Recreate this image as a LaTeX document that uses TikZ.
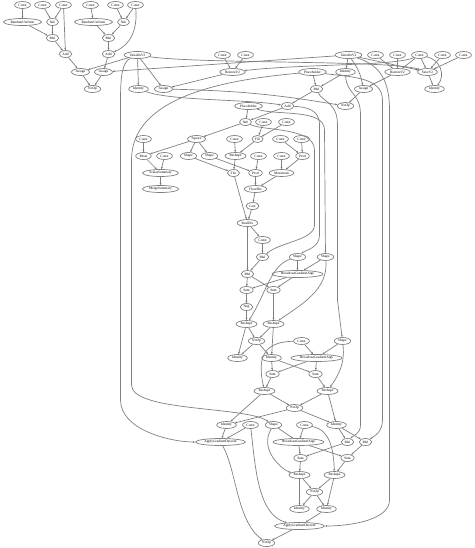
\documentclass[tikz,border=0pt]{standalone}
\usepackage{fontspec}
\setmainfont{Liberation Serif}
\usetikzlibrary{arrows.meta, shapes.geometric}

\begin{document}
\begin{tikzpicture}[x=1pt, y=-1pt,
    op/.style={ellipse, draw=black!50, line width=0.7pt, inner xsep=1.5pt, inner ysep=0.3pt,
      minimum height=7pt, font=\fontsize{3.5}{4}\selectfont},
    flow/.style={draw=black!50, line width=0.7pt, -{Stealth[length=2.4pt, width=1.9pt]}}
]
  \useasboundingbox (0,0) rectangle (474,548);
  \begin{scope}[xshift=0.5pt]

  % Initial values of the two variables
  \node[op] (c1) at (22,5) {Const};
  \node[op] (c2) at (42,5) {Const};
  \node[op] (c3) at (63,5) {Const};
  \node[op] (c4) at (90,5) {Const};
  \node[op] (c5) at (115,5) {Const};
  \node[op] (c6) at (135,5) {Const};
  \node[op] (ru1) at (22,22) {RandomUniform};
  \node[op] (sub1) at (52,22) {Sub};
  \node[op] (ru2) at (93,22) {RandomUniform};
  \node[op] (sub2) at (123,22) {Sub};
  \node[op] (mul1) at (52,38) {Mul};
  \node[op] (mul2) at (108,38) {Mul};
  \node[op] (add1) at (65,54) {Add};
  \node[op] (add2) at (108,54) {Add};
  \node[op] (asg1) at (80,72) {Assign};
  \node[op] (asg2) at (103,72) {Assign};
  \node[op] (init) at (92,89) {NoOp};

  % Variables, saver and restore
  \node[op] (var1) at (137,55) {VariableV2};
  \node[op] (cr1) at (222,55) {Const};
  \node[op] (cr2) at (245,55) {Const};
  \node[op] (var2) at (348,55) {VariableV2};
  \node[op] (cs1) at (375,55) {Const};
  \node[op] (cs2) at (397,55) {Const};
  \node[op] (cs3) at (419,55) {Const};
  \node[op] (cs4) at (442,55) {Const};
  \node[op] (cs5) at (463,55) {Const};
  \node[op] (rst1) at (232,72) {RestoreV2};
  \node[op] (phx) at (312,72) {Placeholder};
  \node[op] (idw) at (345,72) {Identity};
  \node[op] (rst2) at (397,72) {RestoreV2};
  \node[op] (save) at (427,72) {SaveV2};
  \node[op] (idb) at (138,89) {Identity};
  \node[op] (asg3) at (163,89) {Assign};
  \node[op] (mulx) at (316,89) {Mul};
  \node[op] (asg4) at (363,89) {Assign};
  \node[op] (idsave) at (434,89) {Identity};
  \node[op] (phy) at (248,106) {Placeholder};
  \node[op] (addm) at (287,106) {Add};
  \node[op] (restore) at (345,106) {NoOp};

  % Loss and summaries
  \node[op] (sub3) at (245,122) {Sub};
  \node[op] (c7) at (263,122) {Const};
  \node[op] (c8) at (286,122) {Const};
  \node[op] (c9) at (143,139) {Const};
  \node[op] (sq) at (196,139) {Square};
  \node[op] (c10) at (234,139) {Const};
  \node[op] (fill) at (257,139) {Fill};
  \node[op] (c11) at (280,139) {Const};
  \node[op] (c12) at (301,139) {Const};
  \node[op] (mean) at (143,156) {Mean};
  \node[op] (c13) at (164,156) {Const};
  \node[op] (shp1) at (188,156) {Shape};
  \node[op] (shp2) at (209,156) {Shape};
  \node[op] (rshp0) at (235,156) {Reshape};
  \node[op] (c14) at (258,156) {Const};
  \node[op] (c15) at (281,156) {Const};
  \node[op] (prod1) at (302,156) {Prod};
  \node[op] (ssum) at (160,173) {ScalarSummary};
  \node[op] (tile) at (233,173) {Tile};
  \node[op] (prod2) at (255,173) {Prod};
  \node[op] (maxm) at (281,173) {Maximum};
  \node[op] (msum) at (160,189) {MergeSummary};
  \node[op] (fdiv) at (255,189) {FloorDiv};
  \node[op] (cast) at (252,206) {Cast};
  \node[op] (rdiv) at (247,223) {RealDiv};

  % Gradients of Square and Sub
  \node[op] (c16) at (262,240) {Const};
  \node[op] (mulg1) at (262,257) {Mul};
  \node[op] (shp3) at (297,257) {Shape};
  \node[op] (shp4) at (325,257) {Shape};
  \node[op] (mulg2) at (247,274) {Mul};
  \node[op] (bga1) at (297,274) {BroadcastGradientArgs};
  \node[op] (sum1) at (246,290) {Sum};
  \node[op] (sum2) at (273,290) {Sum};
  \node[op] (neg) at (246,307) {Neg};
  \node[op] (rs1) at (246,324) {Reshape};
  \node[op] (rs2) at (273,324) {Reshape};
  \node[op] (nop1) at (256,341) {NoOp};
  \node[op] (id1) at (237,358) {Identity};
  \node[op] (id2) at (271,358) {Identity};

  % Gradient of Add
  \node[op] (c17) at (301,341) {Const};
  \node[op] (shp5) at (342,341) {Shape};
  \node[op] (bga2) at (316,358) {BroadcastGradientArgs};
  \node[op] (sum3) at (272,374) {Sum};
  \node[op] (sum4) at (315,374) {Sum};
  \node[op] (rs3) at (264,391) {Reshape};
  \node[op] (rs4) at (327,391) {Reshape};
  \node[op] (nop2) at (294,408) {NoOp};
  \node[op] (id3) at (226,425) {Identity};
  \node[op] (c18) at (250,425) {Const};
  \node[op] (id4) at (336,425) {Identity};

  % Gradient of Mul and updates
  \node[op] (shp6) at (273,425) {Shape};
  \node[op] (c19) at (304,425) {Const};
  \node[op] (agd1) at (220,442) {ApplyGradientDescent};
  \node[op] (bga3) at (298,442) {BroadcastGradientArgs};
  \node[op] (mulg3) at (347,442) {Mul};
  \node[op] (mulg4) at (365,442) {Mul};
  \node[op] (sum5) at (300,458) {Sum};
  \node[op] (sum6) at (347,458) {Sum};
  \node[op] (rs5) at (299,475) {Reshape};
  \node[op] (rs6) at (334,475) {Reshape};
  \node[op] (nop3) at (314,492) {NoOp};
  \node[op] (id5) at (299,509) {Identity};
  \node[op] (id6) at (326,509) {Identity};
  \node[op] (agd2) at (299,526) {ApplyGradientDescent};
  \node[op] (nop4) at (266,543) {NoOp};

  % Edges: initializers
  \draw[flow] (c1) edge (ru1);
  \draw[flow] (c2) edge (sub1);
  \draw[flow] (c3) edge (sub1) edge (add1);
  \draw[flow] (ru1) edge (mul1);
  \draw[flow] (sub1) edge (mul1);
  \draw[flow] (mul1) edge (add1);
  \draw[flow] (c4) edge (ru2);
  \draw[flow] (c5) edge (sub2);
  \draw[flow] (c6) edge (sub2);
  \draw[flow] (c6) .. controls (137,30) and (130,45) .. (add2);
  \draw[flow] (ru2) edge (mul2);
  \draw[flow] (sub2) edge (mul2);
  \draw[flow] (mul2) edge (add2);
  \draw[flow] (add1) edge (asg1);
  \draw[flow] (add2) edge (asg2);
  \draw[flow] (asg1) edge (init);
  \draw[flow] (asg2) edge (init);
  \draw[flow] (var1) edge (asg1) edge (idb) edge (asg3);
  \draw[flow] (var2) edge (asg2);

  % Edges: saver and restore
  \draw[flow] (cr1) edge (rst1);
  \draw[flow] (cr2) edge (rst1);
  \draw[flow] (rst1) edge (asg3);
  \draw[flow] (cs1) edge (rst2);
  \draw[flow] (cs2) edge (rst2);
  \draw[flow] (cs3) edge (rst2) edge (save);
  \draw[flow] (cs4) edge (save);
  \draw[flow] (cs5) edge (save);
  \draw[flow] (save) edge (idsave);
  \draw[flow] (rst2) edge (asg4);
  \draw[flow] (var2) edge (idw) edge (save) edge[bend left=12] (asg4);
  \draw[flow] (asg4) edge (restore);
  \draw[flow] (asg3) edge[bend left=4] (restore);
  \draw[flow] (cs3) .. controls (440,60) and (445,75) .. (idsave);
  \draw[flow] (cs3) .. controls (395,66) and (300,64) .. (rst1);
  \draw[flow] (var1) .. controls (200,64) and (390,60) .. (save);

  % Edges: model and loss
  \draw[flow] (phx) edge (mulx);
  \draw[flow] (idw) edge (mulx);
  \draw[flow] (mulx) edge (addm);
  \draw[flow] (idb) .. controls (172,101) and (245,99) .. (addm);
  \draw[flow] (phy) edge (sub3);
  \draw[flow] (addm) edge (sub3);
  \draw[flow] (sub3) edge (sq);
  \draw[flow] (c7) edge (fill);
  \draw[flow] (c8) edge (fill);
  \draw[flow] (c9) edge (mean);
  \draw[flow] (sq) edge (mean) edge (shp1) edge (shp2);
  \draw[flow] (c10) edge (rshp0);
  \draw[flow] (fill) edge (rshp0);
  \draw[flow] (c11) edge (prod1);
  \draw[flow] (c12) edge (prod1);
  \draw[flow] (mean) edge (ssum);
  \draw[flow] (c13) edge (ssum);
  \draw[flow] (ssum) edge (msum);
  \draw[flow] (shp1) edge (tile);
  \draw[flow] (rshp0) edge (tile);
  \draw[flow] (shp2) edge (prod2);
  \draw[flow] (c14) edge (prod2);
  \draw[flow] (c15) edge (maxm);
  \draw[flow] (prod1) edge (maxm);
  \draw[flow] (prod2) edge (fdiv);
  \draw[flow] (maxm) edge (fdiv);
  \draw[flow] (fdiv) edge (cast);
  \draw[flow] (tile) edge (rdiv);
  \draw[flow] (cast) edge (rdiv);

  % Edges: gradients of Square and Sub
  \draw[flow] (rdiv) edge (c16) edge (mulg2);
  \draw[flow] (c16) edge (mulg1);
  \draw[flow] (mulg1) edge (mulg2);
  \draw[flow] (sub3) .. controls (262,131) and (314,127) .. (314,150) -- (314,225)
    .. controls (314,240) and (280,242) .. (mulg1);
  \draw[flow] (addm) .. controls (307,107) and (319,110) .. (319,125) -- (319,235)
    .. controls (319,248) and (305,250) .. (shp3);
  \draw[flow] (phy) .. controls (275,116) and (324,108) .. (324,130) -- (shp4);
  \draw[flow] (shp3) edge (bga1);
  \draw[flow] (shp4) edge (bga1);
  \draw[flow] (mulg2) edge (sum1) edge (sum2);
  \draw[flow] (bga1) edge (sum1) edge (sum2);
  \draw[flow] (sum1) edge (neg);
  \draw[flow] (neg) edge (rs1);
  \draw[flow] (sum2) edge (rs2);
  \draw[flow] (shp3) .. controls (270,265) and (265,295) .. (rs1);
  \draw[flow] (shp4) .. controls (328,290) and (300,305) .. (rs2);
  \draw[flow] (rs1) edge (nop1) edge (id1);
  \draw[flow] (rs2) edge (nop1) edge (id2);
  \draw[flow] (nop1) edge (id1) edge (id2);

  % Edges: gradient of Add
  \draw[flow] (c17) edge (bga2);
  \draw[flow] (shp5) edge (bga2);
  \draw[flow] (mulx) .. controls (322,102) and (337,102) .. (337,125) -- (337,300) -- (shp5);
  \draw[flow] (id2) edge (sum3) edge (sum4);
  \draw[flow] (bga2) edge (sum3) edge (sum4);
  \draw[flow] (sum3) edge (rs3);
  \draw[flow] (sum4) edge (rs4);
  \draw[flow] (c17) .. controls (265,342) and (256,355) .. (rs3);
  \draw[flow] (shp5) .. controls (345,365) and (336,378) .. (rs4);
  \draw[flow] (rs3) edge (nop2) edge (id3);
  \draw[flow] (rs4) edge (nop2) edge (id4);
  \draw[flow] (nop2) edge (id3) edge (id4);

  % Edges: gradient of Mul
  \draw[flow] (phx) .. controls (220,80) and (131,98) .. (131,160) -- (131,385)
    .. controls (131,412) and (245,406) .. (shp6);
  \draw[flow] (shp6) edge (bga3);
  \draw[flow] (c19) edge (bga3);
  \draw[flow] (idw) .. controls (346,95) and (360,92) .. (360,115) -- (360,425)
    .. controls (360,434) and (352,436) .. (mulg3);
  \draw[flow] (phx) .. controls (350,77) and (382,77) .. (382,100) -- (382,420)
    .. controls (382,432) and (374,436) .. (mulg4);
  \draw[flow] (id4) edge (mulg3) edge (mulg4);
  \draw[flow] (mulg3) edge (sum5);
  \draw[flow] (mulg4) edge (sum6);
  \draw[flow] (bga3) edge (sum5) edge (sum6);
  \draw[flow] (sum5) edge (rs5);
  \draw[flow] (sum6) edge (rs6);
  \draw[flow] (shp6) .. controls (258,450) and (282,470) .. (rs5);
  \draw[flow] (c19) .. controls (330,430) and (333,450) .. (rs6);
  \draw[flow] (rs5) edge (nop3) edge (id5);
  \draw[flow] (rs6) edge (nop3) edge (id6);
  \draw[flow] (nop3) edge (id5) edge (id6);

  % Edges: gradient descent updates
  \draw[flow] (id3) edge (agd1);
  \draw[flow] (c18) edge (agd1);
  \draw[flow] (var1) .. controls (122,62) and (120,75) .. (120,100) -- (120,400)
    .. controls (120,430) and (170,442) .. (agd1);
  \draw[flow] (id6) edge (agd2);
  \draw[flow] (c18) .. controls (255,470) and (258,515) .. (agd2);
  \draw[flow] (var2) .. controls (375,64) and (389,75) .. (389,110) -- (389,500)
    .. controls (389,520) and (350,526) .. (agd2);
  \draw[flow] (agd1) .. controls (236,470) and (236,520) .. (nop4);
  \draw[flow] (agd2) edge (nop4);
  \end{scope}
\end{tikzpicture}
\end{document}
